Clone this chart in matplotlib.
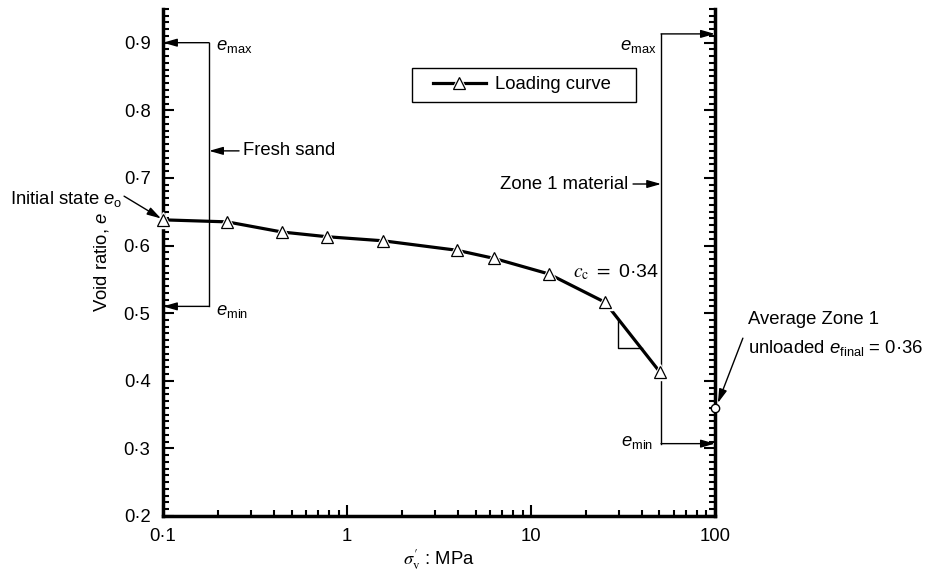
import matplotlib
matplotlib.use("Agg")
import matplotlib.pyplot as plt
from matplotlib.patches import Rectangle
from matplotlib.ticker import MultipleLocator, LogLocator, NullFormatter

plt.rcParams['font.family'] = ['Liberation Sans', 'DejaVu Sans']
plt.rcParams['font.size'] = 13.3
plt.rcParams['mathtext.fontset'] = 'custom'
plt.rcParams['mathtext.rm'] = 'Liberation Sans'
plt.rcParams['mathtext.it'] = 'Liberation Sans:italic'

# loading curve
stress = [0.1, 0.223, 0.443, 0.78, 1.57, 3.96, 6.3, 12.5, 25.3, 50.2]
void_ratio = [0.638, 0.635, 0.620, 0.613, 0.607, 0.593, 0.581, 0.558, 0.516, 0.413]

e_final_x = [100]
e_final = [0.36]

fresh_x = 0.178
fresh_emax, fresh_emin = 0.90, 0.51
zone_x = 51.0
zone_emax, zone_emin = 0.913, 0.307

slope_x = [29.7, 29.7, 40.1]
slope_e = [0.490, 0.448, 0.448]

xticks = [0.1, 1, 10, 100]
xtick_labels = ['0·1', '1', '10', '100']
yticks = [0.2, 0.3, 0.4, 0.5, 0.6, 0.7, 0.8, 0.9]
ytick_labels = ['0·2', '0·3', '0·4', '0·5', '0·6', '0·7', '0·8', '0·9']

fig = plt.figure(figsize=(9.29, 5.73), dpi=100)
ax = fig.add_axes([0.1755, 0.0995, 0.594, 0.885])


def arrow(x0, y0, x1, y1):
    ax.annotate('', xy=(x1, y1), xytext=(x0, y0), annotation_clip=False,
                arrowprops=dict(arrowstyle='-|>,head_length=0.7,head_width=0.2',
                                lw=1, color='k', shrinkA=0, shrinkB=0,
                                mutation_scale=12))


curve, = ax.plot(stress, void_ratio, '-', color='k', lw=2.3, clip_on=False,
                 zorder=4)
halo, = ax.plot(stress, void_ratio, ls='none', marker='^', ms=12, mfc='white',
                mec='white', clip_on=False, zorder=5)
marks, = ax.plot(stress, void_ratio, ls='none', marker='^', ms=8, mfc='white',
                 mec='k', mew=0.9, clip_on=False, zorder=6)
ax.plot(e_final_x, e_final, 'o', ms=6, mfc='white', mec='k', mew=1,
        clip_on=False, zorder=6)
ax.plot(slope_x, slope_e, color='k', lw=1)

# fresh sand bracket
ax.plot([fresh_x, fresh_x], [fresh_emin, fresh_emax], color='k', lw=1)
arrow(fresh_x, fresh_emax, 0.1, fresh_emax)
arrow(fresh_x, fresh_emin, 0.1, fresh_emin)
ax.text(0.194, 0.894, r'$e_{\rm max}$', va='center', ha='left')
ax.text(0.194, 0.503, r'$e_{\rm min}$', va='center', ha='left')
arrow(0.259, 0.74, fresh_x, 0.74)
ax.text(0.272, 0.74, 'Fresh sand', va='center', ha='left')

# zone 1 bracket
ax.plot([zone_x, zone_x], [zone_emin, zone_emax], color='k', lw=1)
arrow(zone_x, zone_emax, 100, zone_emax)
arrow(zone_x, zone_emin, 100, zone_emin)
ax.text(48.5, 0.894, r'$e_{\rm max}$', va='center', ha='right')
ax.text(46.1, 0.308, r'$e_{\rm min}$', va='center', ha='right')
arrow(35.9, 0.691, zone_x, 0.691)
ax.text(33.7, 0.691, 'Zone 1 material', va='center', ha='right')

# initial state
ax.text(0.0599, 0.669, r'Initial state $e_{\rm o}$', va='center', ha='right',
        clip_on=False)
arrow(0.0614, 0.673, 0.0975, 0.640)

ax.text(16.9, 0.561, r'$c_{\rm c}$ $=$ 0·34', va='center', ha='left',
        math_fontfamily='stix', fontsize=14)

ax.text(151, 0.490, 'Average Zone 1', va='center', ha='left', clip_on=False)
ax.text(151, 0.448, r'unloaded $e_{\rm final}$ = 0·36', va='center', ha='left',
        clip_on=False)
arrow(142, 0.463, 103.8, 0.367)

ax.set_xscale('log')
ax.set_xlim(0.1, 100)
ax.set_ylim(0.2, 0.95)
ax.set_xticks(xticks, labels=xtick_labels)
ax.xaxis.set_minor_locator(LogLocator(base=10, subs=range(2, 10)))
ax.xaxis.set_minor_formatter(NullFormatter())
ax.set_yticks(yticks, labels=ytick_labels)
ax.yaxis.set_minor_locator(MultipleLocator(0.01))
ax.tick_params(which='both', direction='in', left=True, right=True,
               top=False, width=1.5)
ax.tick_params(which='major', length=8, pad=9)
ax.tick_params(which='minor', length=4)
ax.spines['top'].set_visible(False)
for s in ['left', 'right', 'bottom']:
    ax.spines[s].set_linewidth(2.5)

ax.set_ylabel(r'Void ratio, $e$', labelpad=9)
ax.set_xlabel(r"$\sigma^{\prime}_{\mathrm{v}}$ : MPa", math_fontfamily='stix',
              labelpad=1)

# legend box drawn by hand, handle and text inside
ax.add_patch(Rectangle((0.4511, 0.8166), 0.4058, 0.0671, transform=ax.transAxes,
                       fill=False, lw=1, ec='k', zorder=7))
ax.legend([(curve, halo, marks)], ['Loading curve'], loc='center left',
          bbox_to_anchor=(0.489, 0.850), frameon=False, borderpad=0,
          borderaxespad=0, handlelength=2.87, handletextpad=0.49,
          numpoints=1)

fig.savefig('out.png', dpi=100)
